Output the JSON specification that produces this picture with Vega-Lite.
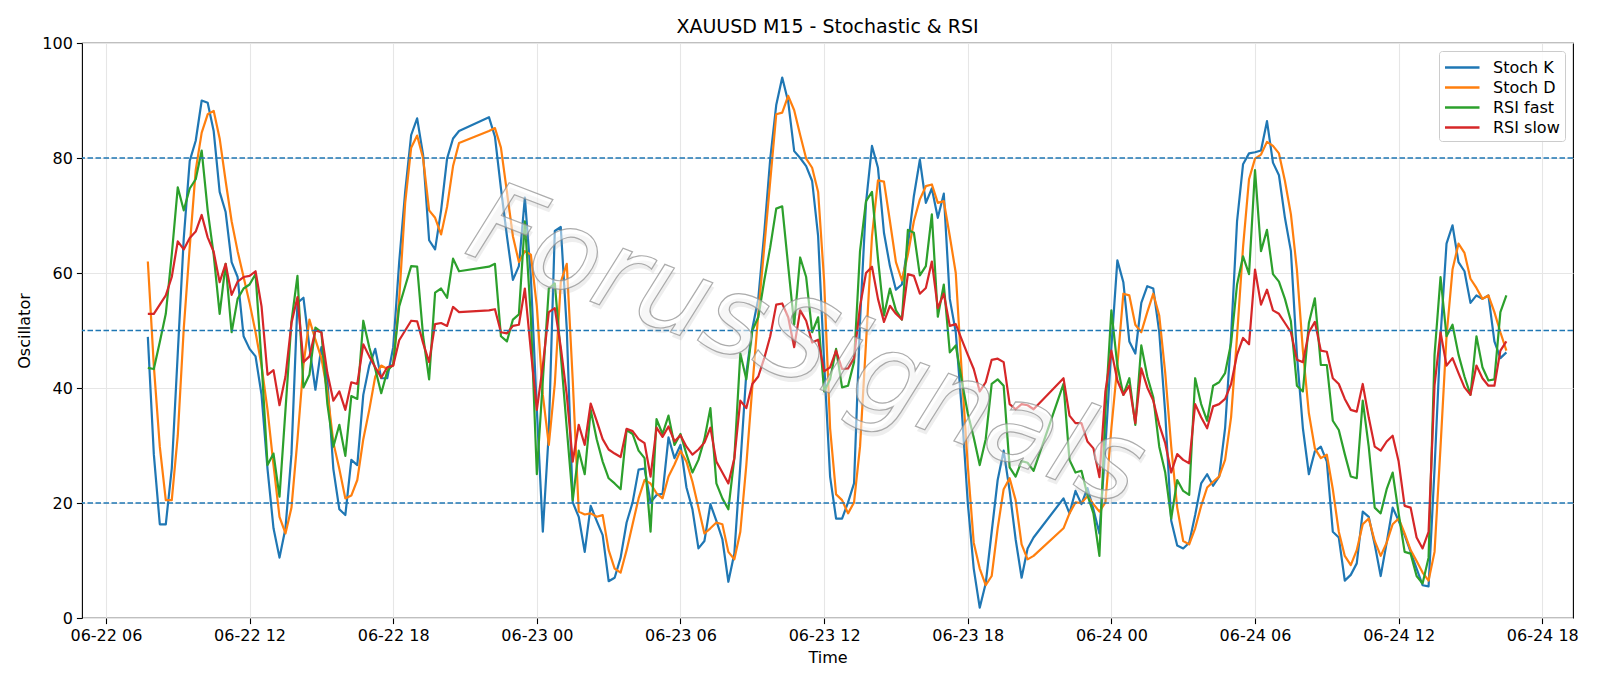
{
"$schema": "https://vega.github.io/schema/vega-lite/v6.json",
"width": 1491, "height": 575,
"autosize": {"type": "none"},
"padding": {"left": 82, "top": 43, "right": 27, "bottom": 68},
"background": "white",
"title": {"text": "XAUUSD M15 - Stochastic & RSI", "fontSize": 19, "font": "DejaVu Sans", "fontWeight": "normal", "color": "black", "anchor": "middle", "offset": 10, "baseline": "alphabetic", "dy": 27},
"config": {
  "font": "DejaVu Sans",
  "view": {"stroke": "black", "strokeWidth": 1.1},
  "axis": {"labelFont": "DejaVu Sans", "labelFontSize": 16, "labelColor": "black", "titleFont": "DejaVu Sans", "titleFontSize": 16, "titleFontWeight": "normal", "titleColor": "black", "tickSize": 5.6, "tickColor": "black", "tickWidth": 1.1, "domain": false, "grid": true, "gridColor": "#e6e6e6", "gridWidth": 1.1, "labelPadding": 4, "titlePadding": 4, "labelFlush": false, "labelOverlap": false}
},
"layer": [
 {
  "data": {"values": [
{"t":"2025-06-22T07:45","Stoch K":48.9,"Stoch D":62.0,"RSI fast":43.5,"RSI slow":52.9},
{"t":"2025-06-22T08:00","Stoch K":28.5,"Stoch D":43.9,"RSI fast":43.3,"RSI slow":52.9},
{"t":"2025-06-22T08:15","Stoch K":16.3,"Stoch D":29.8,"RSI fast":48.0,"RSI slow":54.5},
{"t":"2025-06-22T08:30","Stoch K":16.3,"Stoch D":20.5,"RSI fast":52.9,"RSI slow":56.1},
{"t":"2025-06-22T08:45","Stoch K":26.0,"Stoch D":20.5,"RSI fast":63.2,"RSI slow":59.3},
{"t":"2025-06-22T09:00","Stoch K":46.0,"Stoch D":31.7,"RSI fast":74.9,"RSI slow":65.5},
{"t":"2025-06-22T09:15","Stoch K":66.0,"Stoch D":50.3,"RSI fast":70.9,"RSI slow":64.1},
{"t":"2025-06-22T09:30","Stoch K":79.5,"Stoch D":64.5,"RSI fast":74.7,"RSI slow":66.1},
{"t":"2025-06-22T09:45","Stoch K":83.0,"Stoch D":77.9,"RSI fast":76.3,"RSI slow":67.2},
{"t":"2025-06-22T10:00","Stoch K":90.0,"Stoch D":84.4,"RSI fast":81.3,"RSI slow":70.1},
{"t":"2025-06-22T10:15","Stoch K":89.6,"Stoch D":87.6,"RSI fast":70.9,"RSI slow":66.2},
{"t":"2025-06-22T10:30","Stoch K":84.7,"Stoch D":88.2,"RSI fast":63.2,"RSI slow":63.7},
{"t":"2025-06-22T10:45","Stoch K":74.1,"Stoch D":83.4,"RSI fast":52.9,"RSI slow":58.4},
{"t":"2025-06-22T11:00","Stoch K":70.6,"Stoch D":76.0,"RSI fast":61.6,"RSI slow":61.6},
{"t":"2025-06-22T11:15","Stoch K":61.9,"Stoch D":69.0,"RSI fast":49.7,"RSI slow":56.2},
{"t":"2025-06-22T11:30","Stoch K":59.3,"Stoch D":63.8,"RSI fast":55.5,"RSI slow":58.5},
{"t":"2025-06-22T11:45","Stoch K":49.0,"Stoch D":59.3,"RSI fast":57.3,"RSI slow":59.3},
{"t":"2025-06-22T12:00","Stoch K":46.8,"Stoch D":54.8,"RSI fast":58.0,"RSI slow":59.5},
{"t":"2025-06-22T12:15","Stoch K":45.5,"Stoch D":49.7,"RSI fast":59.8,"RSI slow":60.3},
{"t":"2025-06-22T12:30","Stoch K":38.8,"Stoch D":43.9,"RSI fast":44.5,"RSI slow":54.2},
{"t":"2025-06-22T12:45","Stoch K":25.9,"Stoch D":36.2,"RSI fast":26.6,"RSI slow":42.3},
{"t":"2025-06-22T13:00","Stoch K":15.6,"Stoch D":26.6,"RSI fast":28.6,"RSI slow":43.1},
{"t":"2025-06-22T13:15","Stoch K":10.5,"Stoch D":17.6,"RSI fast":21.1,"RSI slow":37.0},
{"t":"2025-06-22T13:30","Stoch K":15.6,"Stoch D":14.7,"RSI fast":36.2,"RSI slow":42.0},
{"t":"2025-06-22T13:45","Stoch K":28.5,"Stoch D":19.2,"RSI fast":51.6,"RSI slow":51.3},
{"t":"2025-06-22T14:00","Stoch K":54.8,"Stoch D":31.0,"RSI fast":59.5,"RSI slow":55.8},
{"t":"2025-06-22T14:15","Stoch K":55.7,"Stoch D":44.0,"RSI fast":40.1,"RSI slow":44.5},
{"t":"2025-06-22T14:30","Stoch K":47.1,"Stoch D":51.9,"RSI fast":42.3,"RSI slow":45.5},
{"t":"2025-06-22T14:45","Stoch K":39.7,"Stoch D":48.4,"RSI fast":50.5,"RSI slow":50.0},
{"t":"2025-06-22T15:00","Stoch K":47.1,"Stoch D":45.2,"RSI fast":49.7,"RSI slow":49.7},
{"t":"2025-06-22T15:15","Stoch K":41.3,"Stoch D":39.4,"RSI fast":37.2,"RSI slow":42.6},
{"t":"2025-06-22T15:30","Stoch K":25.9,"Stoch D":30.5,"RSI fast":29.8,"RSI slow":37.8},
{"t":"2025-06-22T15:45","Stoch K":18.9,"Stoch D":25.9,"RSI fast":33.6,"RSI slow":39.4},
{"t":"2025-06-22T16:00","Stoch K":17.9,"Stoch D":20.8,"RSI fast":28.2,"RSI slow":36.2},
{"t":"2025-06-22T16:15","Stoch K":27.5,"Stoch D":21.3,"RSI fast":38.6,"RSI slow":41.0},
{"t":"2025-06-22T16:30","Stoch K":26.6,"Stoch D":24.0,"RSI fast":38.1,"RSI slow":40.7},
{"t":"2025-06-22T16:45","Stoch K":38.8,"Stoch D":31.1,"RSI fast":51.7,"RSI slow":47.6},
{"t":"2025-06-22T17:00","Stoch K":43.9,"Stoch D":36.2,"RSI fast":47.1,"RSI slow":45.5},
{"t":"2025-06-22T17:15","Stoch K":46.8,"Stoch D":42.0,"RSI fast":43.3,"RSI slow":43.6},
{"t":"2025-06-22T17:30","Stoch K":41.7,"Stoch D":43.9,"RSI fast":39.1,"RSI slow":41.8},
{"t":"2025-06-22T17:45","Stoch K":41.7,"Stoch D":43.3,"RSI fast":42.9,"RSI slow":43.6},
{"t":"2025-06-22T18:00","Stoch K":47.1,"Stoch D":43.9,"RSI fast":44.2,"RSI slow":43.9},
{"t":"2025-06-22T18:15","Stoch K":61.9,"Stoch D":55.5,"RSI fast":54.2,"RSI slow":48.3},
{"t":"2025-06-22T18:30","Stoch K":74.1,"Stoch D":72.2,"RSI fast":57.7,"RSI slow":50.0},
{"t":"2025-06-22T18:45","Stoch K":84.0,"Stoch D":81.8,"RSI fast":61.2,"RSI slow":51.7},
{"t":"2025-06-22T19:00","Stoch K":86.9,"Stoch D":83.9,"RSI fast":61.1,"RSI slow":51.6},
{"t":"2025-06-22T19:15","Stoch K":80.5,"Stoch D":79.9,"RSI fast":49.0,"RSI slow":47.8},
{"t":"2025-06-22T19:30","Stoch K":65.7,"Stoch D":70.9,"RSI fast":41.5,"RSI slow":44.5},
{"t":"2025-06-22T19:45","Stoch K":64.1,"Stoch D":69.6,"RSI fast":56.6,"RSI slow":51.1},
{"t":"2025-06-22T20:00","Stoch K":70.9,"Stoch D":66.7,"RSI fast":57.3,"RSI slow":51.3},
{"t":"2025-06-22T20:15","Stoch K":79.9,"Stoch D":71.5,"RSI fast":55.7,"RSI slow":50.8},
{"t":"2025-06-22T20:30","Stoch K":83.4,"Stoch D":78.6,"RSI fast":62.5,"RSI slow":54.1},
{"t":"2025-06-22T20:45","Stoch K":84.7,"Stoch D":82.6,"RSI fast":60.3,"RSI slow":53.2},
{"t":"2025-06-22T22:00","Stoch K":87.1,"Stoch D":84.7,"RSI fast":61.1,"RSI slow":53.5},
{"t":"2025-06-22T22:15","Stoch K":83.7,"Stoch D":85.2,"RSI fast":61.6,"RSI slow":53.7},
{"t":"2025-06-22T22:30","Stoch K":74.7,"Stoch D":81.8,"RSI fast":49.0,"RSI slow":49.7},
{"t":"2025-06-22T22:45","Stoch K":66.4,"Stoch D":74.1,"RSI fast":48.1,"RSI slow":49.5},
{"t":"2025-06-22T23:00","Stoch K":58.8,"Stoch D":66.4,"RSI fast":51.9,"RSI slow":50.8},
{"t":"2025-06-22T23:15","Stoch K":61.2,"Stoch D":61.9,"RSI fast":52.8,"RSI slow":51.0},
{"t":"2025-06-22T23:30","Stoch K":73.1,"Stoch D":63.8,"RSI fast":69.0,"RSI slow":57.3},
{"t":"2025-06-22T23:45","Stoch K":59.3,"Stoch D":63.2,"RSI fast":52.3,"RSI slow":46.5},
{"t":"2025-06-23T00:00","Stoch K":36.2,"Stoch D":54.2,"RSI fast":25.0,"RSI slow":36.2},
{"t":"2025-06-23T00:15","Stoch K":15.0,"Stoch D":38.8,"RSI fast":41.3,"RSI slow":43.9},
{"t":"2025-06-23T00:30","Stoch K":32.3,"Stoch D":30.1,"RSI fast":57.3,"RSI slow":53.2},
{"t":"2025-06-23T00:45","Stoch K":67.3,"Stoch D":40.7,"RSI fast":58.2,"RSI slow":53.9},
{"t":"2025-06-23T01:00","Stoch K":68.0,"Stoch D":58.4,"RSI fast":45.8,"RSI slow":47.1},
{"t":"2025-06-23T01:15","Stoch K":50.3,"Stoch D":61.6,"RSI fast":33.0,"RSI slow":38.8},
{"t":"2025-06-23T01:30","Stoch K":20.1,"Stoch D":41.3,"RSI fast":20.5,"RSI slow":27.2},
{"t":"2025-06-23T01:45","Stoch K":17.6,"Stoch D":18.5,"RSI fast":29.1,"RSI slow":33.6},
{"t":"2025-06-23T02:00","Stoch K":11.5,"Stoch D":18.0,"RSI fast":25.0,"RSI slow":30.1},
{"t":"2025-06-23T02:15","Stoch K":19.5,"Stoch D":18.2,"RSI fast":36.2,"RSI slow":37.3},
{"t":"2025-06-23T02:30","Stoch K":16.9,"Stoch D":17.6,"RSI fast":31.1,"RSI slow":34.3},
{"t":"2025-06-23T02:45","Stoch K":14.4,"Stoch D":17.9,"RSI fast":27.2,"RSI slow":31.1},
{"t":"2025-06-23T03:00","Stoch K":6.4,"Stoch D":11.8,"RSI fast":24.3,"RSI slow":29.3},
{"t":"2025-06-23T03:15","Stoch K":7.0,"Stoch D":8.6,"RSI fast":23.4,"RSI slow":28.6},
{"t":"2025-06-23T03:30","Stoch K":10.5,"Stoch D":7.9,"RSI fast":22.4,"RSI slow":28.0},
{"t":"2025-06-23T03:45","Stoch K":16.6,"Stoch D":11.8,"RSI fast":32.7,"RSI slow":32.9},
{"t":"2025-06-23T04:00","Stoch K":20.1,"Stoch D":16.3,"RSI fast":32.0,"RSI slow":32.5},
{"t":"2025-06-23T04:15","Stoch K":25.8,"Stoch D":20.8,"RSI fast":29.1,"RSI slow":31.1},
{"t":"2025-06-23T04:30","Stoch K":26.0,"Stoch D":24.0,"RSI fast":27.8,"RSI slow":30.4},
{"t":"2025-06-23T04:45","Stoch K":20.1,"Stoch D":23.4,"RSI fast":15.0,"RSI slow":24.6},
{"t":"2025-06-23T05:00","Stoch K":21.4,"Stoch D":21.7,"RSI fast":34.6,"RSI slow":33.1},
{"t":"2025-06-23T05:15","Stoch K":21.6,"Stoch D":20.8,"RSI fast":32.0,"RSI slow":31.5},
{"t":"2025-06-23T05:30","Stoch K":31.4,"Stoch D":24.6,"RSI fast":35.2,"RSI slow":33.3},
{"t":"2025-06-23T05:45","Stoch K":27.8,"Stoch D":26.7,"RSI fast":30.1,"RSI slow":30.7},
{"t":"2025-06-23T06:00","Stoch K":30.1,"Stoch D":29.1,"RSI fast":32.0,"RSI slow":31.8},
{"t":"2025-06-23T06:15","Stoch K":22.7,"Stoch D":27.2,"RSI fast":28.5,"RSI slow":29.8},
{"t":"2025-06-23T06:30","Stoch K":18.9,"Stoch D":23.7,"RSI fast":25.3,"RSI slow":28.4},
{"t":"2025-06-23T06:45","Stoch K":12.1,"Stoch D":19.2,"RSI fast":27.5,"RSI slow":29.3},
{"t":"2025-06-23T07:00","Stoch K":13.4,"Stoch D":14.7,"RSI fast":31.1,"RSI slow":30.5},
{"t":"2025-06-23T07:15","Stoch K":19.8,"Stoch D":15.6,"RSI fast":36.5,"RSI slow":33.1},
{"t":"2025-06-23T07:30","Stoch K":16.9,"Stoch D":16.6,"RSI fast":23.4,"RSI slow":27.2},
{"t":"2025-06-23T07:45","Stoch K":13.7,"Stoch D":16.3,"RSI fast":20.8,"RSI slow":25.3},
{"t":"2025-06-23T08:00","Stoch K":6.3,"Stoch D":11.5,"RSI fast":18.9,"RSI slow":23.4},
{"t":"2025-06-23T08:15","Stoch K":11.2,"Stoch D":10.2,"RSI fast":27.8,"RSI slow":27.8},
{"t":"2025-06-23T08:30","Stoch K":26.6,"Stoch D":15.0,"RSI fast":46.0,"RSI slow":37.8},
{"t":"2025-06-23T08:45","Stoch K":42.6,"Stoch D":26.6,"RSI fast":41.5,"RSI slow":36.5},
{"t":"2025-06-23T09:00","Stoch K":50.3,"Stoch D":40.1,"RSI fast":50.0,"RSI slow":40.7},
{"t":"2025-06-23T09:15","Stoch K":55.5,"Stoch D":52.9,"RSI fast":52.3,"RSI slow":42.0},
{"t":"2025-06-23T09:30","Stoch K":67.0,"Stoch D":64.5,"RSI fast":58.7,"RSI slow":45.2},
{"t":"2025-06-23T09:45","Stoch K":79.9,"Stoch D":76.0,"RSI fast":64.5,"RSI slow":49.0},
{"t":"2025-06-23T10:00","Stoch K":89.2,"Stoch D":87.6,"RSI fast":71.2,"RSI slow":54.5},
{"t":"2025-06-23T10:15","Stoch K":94.0,"Stoch D":87.9,"RSI fast":71.6,"RSI slow":54.7},
{"t":"2025-06-23T10:30","Stoch K":89.8,"Stoch D":90.8,"RSI fast":61.2,"RSI slow":52.3},
{"t":"2025-06-23T10:45","Stoch K":81.2,"Stoch D":88.3,"RSI fast":51.0,"RSI slow":47.1},
{"t":"2025-06-23T11:00","Stoch K":80.0,"Stoch D":84.0,"RSI fast":62.7,"RSI slow":53.5},
{"t":"2025-06-23T11:15","Stoch K":78.6,"Stoch D":79.9,"RSI fast":59.3,"RSI slow":51.7},
{"t":"2025-06-23T11:30","Stoch K":76.0,"Stoch D":78.3,"RSI fast":49.7,"RSI slow":47.9},
{"t":"2025-06-23T11:45","Stoch K":66.4,"Stoch D":74.1,"RSI fast":52.3,"RSI slow":48.4},
{"t":"2025-06-23T12:00","Stoch K":44.5,"Stoch D":58.7,"RSI fast":39.4,"RSI slow":42.9},
{"t":"2025-06-23T12:15","Stoch K":24.6,"Stoch D":33.0,"RSI fast":41.5,"RSI slow":43.6},
{"t":"2025-06-23T12:30","Stoch K":17.3,"Stoch D":21.5,"RSI fast":46.8,"RSI slow":46.5},
{"t":"2025-06-23T12:45","Stoch K":17.3,"Stoch D":20.5,"RSI fast":40.1,"RSI slow":43.3},
{"t":"2025-06-23T13:00","Stoch K":20.1,"Stoch D":18.2,"RSI fast":40.4,"RSI slow":43.4},
{"t":"2025-06-23T13:15","Stoch K":23.4,"Stoch D":20.1,"RSI fast":44.5,"RSI slow":45.2},
{"t":"2025-06-23T13:30","Stoch K":51.6,"Stoch D":29.8,"RSI fast":63.8,"RSI slow":54.2},
{"t":"2025-06-23T13:45","Stoch K":72.2,"Stoch D":47.8,"RSI fast":72.5,"RSI slow":60.0},
{"t":"2025-06-23T14:00","Stoch K":82.1,"Stoch D":66.4,"RSI fast":74.1,"RSI slow":61.1},
{"t":"2025-06-23T14:15","Stoch K":78.3,"Stoch D":76.1,"RSI fast":62.5,"RSI slow":55.5},
{"t":"2025-06-23T14:30","Stoch K":67.0,"Stoch D":75.9,"RSI fast":52.6,"RSI slow":51.5},
{"t":"2025-06-23T14:45","Stoch K":61.2,"Stoch D":69.0,"RSI fast":57.3,"RSI slow":54.3},
{"t":"2025-06-23T15:00","Stoch K":57.1,"Stoch D":61.9,"RSI fast":53.5,"RSI slow":52.9},
{"t":"2025-06-23T15:15","Stoch K":58.0,"Stoch D":58.7,"RSI fast":51.9,"RSI slow":51.9},
{"t":"2025-06-23T15:30","Stoch K":64.8,"Stoch D":63.2,"RSI fast":67.5,"RSI slow":59.8},
{"t":"2025-06-23T15:45","Stoch K":73.4,"Stoch D":69.0,"RSI fast":67.0,"RSI slow":59.5},
{"t":"2025-06-23T16:00","Stoch K":79.7,"Stoch D":72.8,"RSI fast":59.6,"RSI slow":56.4},
{"t":"2025-06-23T16:15","Stoch K":72.2,"Stoch D":75.1,"RSI fast":61.2,"RSI slow":57.4},
{"t":"2025-06-23T16:30","Stoch K":74.7,"Stoch D":75.4,"RSI fast":70.2,"RSI slow":62.0},
{"t":"2025-06-23T16:45","Stoch K":69.6,"Stoch D":72.2,"RSI fast":52.4,"RSI slow":53.9},
{"t":"2025-06-23T17:00","Stoch K":73.8,"Stoch D":72.5,"RSI fast":58.0,"RSI slow":56.4},
{"t":"2025-06-23T17:15","Stoch K":55.5,"Stoch D":66.4,"RSI fast":46.2,"RSI slow":50.8},
{"t":"2025-06-23T17:30","Stoch K":49.7,"Stoch D":60.0,"RSI fast":47.4,"RSI slow":51.1},
{"t":"2025-06-23T17:45","Stoch K":36.2,"Stoch D":42.6,"RSI fast":41.3,"RSI slow":48.4},
{"t":"2025-06-23T18:00","Stoch K":20.1,"Stoch D":26.6,"RSI fast":35.6,"RSI slow":45.8},
{"t":"2025-06-23T18:15","Stoch K":8.6,"Stoch D":13.1,"RSI fast":31.4,"RSI slow":43.3},
{"t":"2025-06-23T18:30","Stoch K":1.8,"Stoch D":8.6,"RSI fast":26.6,"RSI slow":39.4},
{"t":"2025-06-23T18:45","Stoch K":6.0,"Stoch D":5.7,"RSI fast":31.1,"RSI slow":41.0},
{"t":"2025-06-23T19:00","Stoch K":15.0,"Stoch D":7.3,"RSI fast":40.7,"RSI slow":44.9},
{"t":"2025-06-23T19:15","Stoch K":24.0,"Stoch D":15.6,"RSI fast":41.5,"RSI slow":45.1},
{"t":"2025-06-23T19:30","Stoch K":29.1,"Stoch D":22.4,"RSI fast":40.4,"RSI slow":44.5},
{"t":"2025-06-23T19:45","Stoch K":22.1,"Stoch D":24.3,"RSI fast":26.2,"RSI slow":37.2},
{"t":"2025-06-23T20:00","Stoch K":13.7,"Stoch D":20.5,"RSI fast":24.6,"RSI slow":36.3},
{"t":"2025-06-23T20:15","Stoch K":7.0,"Stoch D":12.8,"RSI fast":27.3,"RSI slow":37.2},
{"t":"2025-06-23T20:30","Stoch K":12.1,"Stoch D":10.2,"RSI fast":27.0,"RSI slow":37.0},
{"t":"2025-06-23T20:45","Stoch K":14.0,"Stoch D":10.8,"RSI fast":25.6,"RSI slow":36.3},
{"t":"2025-06-23T22:00","Stoch K":20.8,"Stoch D":15.6,"RSI fast":40.7,"RSI slow":41.7},
{"t":"2025-06-23T22:15","Stoch K":18.2,"Stoch D":18.2,"RSI fast":27.5,"RSI slow":35.2},
{"t":"2025-06-23T22:30","Stoch K":22.1,"Stoch D":20.1,"RSI fast":25.3,"RSI slow":33.9},
{"t":"2025-06-23T22:45","Stoch K":19.8,"Stoch D":20.0,"RSI fast":25.6,"RSI slow":33.9},
{"t":"2025-06-23T23:00","Stoch K":22.6,"Stoch D":21.2,"RSI fast":21.4,"RSI slow":30.7},
{"t":"2025-06-23T23:15","Stoch K":18.9,"Stoch D":19.8,"RSI fast":18.2,"RSI slow":29.5},
{"t":"2025-06-23T23:30","Stoch K":14.7,"Stoch D":18.5,"RSI fast":10.8,"RSI slow":24.5},
{"t":"2025-06-23T23:45","Stoch K":29.8,"Stoch D":20.1,"RSI fast":36.0,"RSI slow":39.4},
{"t":"2025-06-24T00:00","Stoch K":47.1,"Stoch D":33.0,"RSI fast":53.5,"RSI slow":46.5},
{"t":"2025-06-24T00:15","Stoch K":62.2,"Stoch D":43.9,"RSI fast":43.9,"RSI slow":41.3},
{"t":"2025-06-24T00:30","Stoch K":58.4,"Stoch D":56.4,"RSI fast":38.8,"RSI slow":38.8},
{"t":"2025-06-24T00:45","Stoch K":48.1,"Stoch D":56.1,"RSI fast":41.7,"RSI slow":40.4},
{"t":"2025-06-24T01:00","Stoch K":46.0,"Stoch D":51.0,"RSI fast":33.6,"RSI slow":33.9},
{"t":"2025-06-24T01:15","Stoch K":54.8,"Stoch D":49.7,"RSI fast":47.4,"RSI slow":43.4},
{"t":"2025-06-24T01:30","Stoch K":57.7,"Stoch D":53.2,"RSI fast":42.0,"RSI slow":40.1},
{"t":"2025-06-24T01:45","Stoch K":57.3,"Stoch D":56.4,"RSI fast":38.4,"RSI slow":37.8},
{"t":"2025-06-24T02:00","Stoch K":49.7,"Stoch D":52.6,"RSI fast":29.8,"RSI slow":33.6},
{"t":"2025-06-24T02:15","Stoch K":35.6,"Stoch D":42.6,"RSI fast":25.3,"RSI slow":30.4},
{"t":"2025-06-24T02:30","Stoch K":16.9,"Stoch D":29.8,"RSI fast":17.3,"RSI slow":25.3},
{"t":"2025-06-24T02:45","Stoch K":12.6,"Stoch D":19.2,"RSI fast":24.0,"RSI slow":28.5},
{"t":"2025-06-24T03:00","Stoch K":12.1,"Stoch D":13.4,"RSI fast":22.1,"RSI slow":27.5},
{"t":"2025-06-24T03:15","Stoch K":13.1,"Stoch D":12.8,"RSI fast":21.4,"RSI slow":26.9},
{"t":"2025-06-24T03:30","Stoch K":17.9,"Stoch D":15.6,"RSI fast":41.7,"RSI slow":37.2},
{"t":"2025-06-24T03:45","Stoch K":23.4,"Stoch D":19.5,"RSI fast":37.2,"RSI slow":34.9},
{"t":"2025-06-24T04:00","Stoch K":25.0,"Stoch D":22.7,"RSI fast":34.3,"RSI slow":33.0},
{"t":"2025-06-24T04:15","Stoch K":23.0,"Stoch D":23.7,"RSI fast":40.4,"RSI slow":36.8},
{"t":"2025-06-24T04:30","Stoch K":24.6,"Stoch D":24.6,"RSI fast":41.0,"RSI slow":37.2},
{"t":"2025-06-24T04:45","Stoch K":33.0,"Stoch D":27.5,"RSI fast":42.6,"RSI slow":38.1},
{"t":"2025-06-24T05:00","Stoch K":49.0,"Stoch D":34.9,"RSI fast":47.8,"RSI slow":40.7},
{"t":"2025-06-24T05:15","Stoch K":69.0,"Stoch D":49.0,"RSI fast":58.0,"RSI slow":45.8},
{"t":"2025-06-24T05:30","Stoch K":78.9,"Stoch D":64.5,"RSI fast":62.9,"RSI slow":48.7},
{"t":"2025-06-24T05:45","Stoch K":80.8,"Stoch D":76.3,"RSI fast":59.8,"RSI slow":47.6},
{"t":"2025-06-24T06:00","Stoch K":81.0,"Stoch D":79.9,"RSI fast":77.9,"RSI slow":60.6},
{"t":"2025-06-24T06:15","Stoch K":81.3,"Stoch D":80.6,"RSI fast":63.8,"RSI slow":54.5},
{"t":"2025-06-24T06:30","Stoch K":86.4,"Stoch D":82.8,"RSI fast":67.5,"RSI slow":57.1},
{"t":"2025-06-24T06:45","Stoch K":79.2,"Stoch D":82.1,"RSI fast":59.8,"RSI slow":53.5},
{"t":"2025-06-24T07:00","Stoch K":77.0,"Stoch D":80.8,"RSI fast":58.5,"RSI slow":52.9},
{"t":"2025-06-24T07:15","Stoch K":69.6,"Stoch D":76.0,"RSI fast":55.5,"RSI slow":51.3},
{"t":"2025-06-24T07:30","Stoch K":63.8,"Stoch D":70.2,"RSI fast":51.6,"RSI slow":49.7},
{"t":"2025-06-24T07:45","Stoch K":45.8,"Stoch D":60.6,"RSI fast":40.4,"RSI slow":44.9},
{"t":"2025-06-24T08:00","Stoch K":33.0,"Stoch D":46.5,"RSI fast":39.4,"RSI slow":44.5},
{"t":"2025-06-24T08:15","Stoch K":25.0,"Stoch D":35.6,"RSI fast":51.3,"RSI slow":49.7},
{"t":"2025-06-24T08:30","Stoch K":29.0,"Stoch D":29.5,"RSI fast":55.6,"RSI slow":51.5},
{"t":"2025-06-24T08:45","Stoch K":29.8,"Stoch D":27.8,"RSI fast":44.0,"RSI slow":46.5},
{"t":"2025-06-24T09:00","Stoch K":27.2,"Stoch D":28.4,"RSI fast":44.0,"RSI slow":46.3},
{"t":"2025-06-24T09:15","Stoch K":15.0,"Stoch D":22.4,"RSI fast":34.3,"RSI slow":41.7},
{"t":"2025-06-24T09:30","Stoch K":14.0,"Stoch D":15.0,"RSI fast":32.7,"RSI slow":40.7},
{"t":"2025-06-24T09:45","Stoch K":6.5,"Stoch D":10.8,"RSI fast":28.5,"RSI slow":38.1},
{"t":"2025-06-24T10:00","Stoch K":7.5,"Stoch D":9.2,"RSI fast":24.6,"RSI slow":36.2},
{"t":"2025-06-24T10:15","Stoch K":9.5,"Stoch D":11.8,"RSI fast":24.3,"RSI slow":35.9},
{"t":"2025-06-24T10:30","Stoch K":18.5,"Stoch D":16.3,"RSI fast":37.8,"RSI slow":40.7},
{"t":"2025-06-24T10:45","Stoch K":17.6,"Stoch D":17.3,"RSI fast":29.8,"RSI slow":34.9},
{"t":"2025-06-24T11:00","Stoch K":12.8,"Stoch D":13.4,"RSI fast":19.2,"RSI slow":29.8},
{"t":"2025-06-24T11:15","Stoch K":7.3,"Stoch D":10.8,"RSI fast":18.2,"RSI slow":29.1},
{"t":"2025-06-24T11:30","Stoch K":13.1,"Stoch D":13.1,"RSI fast":22.4,"RSI slow":30.7},
{"t":"2025-06-24T11:45","Stoch K":19.2,"Stoch D":16.3,"RSI fast":25.3,"RSI slow":31.7},
{"t":"2025-06-24T12:00","Stoch K":16.9,"Stoch D":17.3,"RSI fast":18.2,"RSI slow":27.2},
{"t":"2025-06-24T12:15","Stoch K":14.4,"Stoch D":14.7,"RSI fast":11.5,"RSI slow":19.5},
{"t":"2025-06-24T12:30","Stoch K":11.5,"Stoch D":11.8,"RSI fast":11.2,"RSI slow":19.2},
{"t":"2025-06-24T12:45","Stoch K":8.6,"Stoch D":9.9,"RSI fast":7.3,"RSI slow":14.0},
{"t":"2025-06-24T13:00","Stoch K":5.7,"Stoch D":7.9,"RSI fast":6.0,"RSI slow":12.1},
{"t":"2025-06-24T13:15","Stoch K":5.5,"Stoch D":6.5,"RSI fast":10.5,"RSI slow":15.0},
{"t":"2025-06-24T13:30","Stoch K":26.0,"Stoch D":11.5,"RSI fast":45.8,"RSI slow":40.5},
{"t":"2025-06-24T13:45","Stoch K":49.0,"Stoch D":29.8,"RSI fast":59.3,"RSI slow":49.7},
{"t":"2025-06-24T14:00","Stoch K":65.1,"Stoch D":49.0,"RSI fast":49.0,"RSI slow":43.9},
{"t":"2025-06-24T14:15","Stoch K":68.3,"Stoch D":60.6,"RSI fast":51.0,"RSI slow":45.2},
{"t":"2025-06-24T14:30","Stoch K":61.9,"Stoch D":65.1,"RSI fast":45.8,"RSI slow":42.6},
{"t":"2025-06-24T14:45","Stoch K":60.3,"Stoch D":63.5,"RSI fast":42.0,"RSI slow":40.1},
{"t":"2025-06-24T15:00","Stoch K":54.8,"Stoch D":59.0,"RSI fast":38.8,"RSI slow":38.8},
{"t":"2025-06-24T15:15","Stoch K":56.1,"Stoch D":57.4,"RSI fast":49.0,"RSI slow":43.9},
{"t":"2025-06-24T15:30","Stoch K":55.5,"Stoch D":55.5,"RSI fast":43.6,"RSI slow":41.7},
{"t":"2025-06-24T15:45","Stoch K":56.1,"Stoch D":56.1,"RSI fast":41.3,"RSI slow":40.4},
{"t":"2025-06-24T16:00","Stoch K":48.1,"Stoch D":53.2,"RSI fast":41.5,"RSI slow":40.4},
{"t":"2025-06-24T16:15","Stoch K":45.2,"Stoch D":49.7,"RSI fast":53.2,"RSI slow":46.5},
{"t":"2025-06-24T16:30","Stoch K":46.2,"Stoch D":46.5,"RSI fast":56.1,"RSI slow":48.1}
  ]},
  "transform": [{"fold": ["Stoch K", "Stoch D", "RSI fast", "RSI slow"], "as": ["series", "value"]}],
  "mark": {"type": "line", "strokeWidth": 2.2, "strokeJoin": "round", "strokeCap": "butt"},
  "encoding": {
    "x": {"field": "t", "type": "temporal", "title": "Time",
          "scale": {"domain": [{"year": 2025, "month": 6, "date": 22, "hours": 5, "minutes": 0}, {"year": 2025, "month": 6, "date": 24, "hours": 19, "minutes": 17}]},
          "axis": {"format": "%m-%d %H", "titlePadding": 6, "values": [
            {"year": 2025, "month": 6, "date": 22, "hours": 6}, {"year": 2025, "month": 6, "date": 22, "hours": 12}, {"year": 2025, "month": 6, "date": 22, "hours": 18},
            {"year": 2025, "month": 6, "date": 23, "hours": 0}, {"year": 2025, "month": 6, "date": 23, "hours": 6}, {"year": 2025, "month": 6, "date": 23, "hours": 12}, {"year": 2025, "month": 6, "date": 23, "hours": 18},
            {"year": 2025, "month": 6, "date": 24, "hours": 0}, {"year": 2025, "month": 6, "date": 24, "hours": 6}, {"year": 2025, "month": 6, "date": 24, "hours": 12}, {"year": 2025, "month": 6, "date": 24, "hours": 18}]}},
    "y": {"field": "value", "type": "quantitative", "title": "Oscillator", "scale": {"domain": [0, 100], "nice": false},
          "axis": {"values": [0, 20, 40, 60, 80, 100], "titlePadding": 9}},
    "color": {"field": "series", "type": "nominal",
              "scale": {"domain": ["Stoch K", "Stoch D", "RSI fast", "RSI slow"], "range": ["#1f77b4", "#ff7f0e", "#2ca02c", "#d62728"]},
              "legend": {"title": null, "orient": "top-right", "offset": 8, "symbolType": "M-1.05,0H2.4", "symbolSize": 400, "symbolStrokeWidth": 2.3, "labelFontSize": 16, "labelFont": "DejaVu Sans", "labelColor": "black", "labelOffset": 26, "padding": 5, "rowPadding": 0, "fillColor": "rgba(255,255,255,0.85)", "strokeColor": "#cccccc", "cornerRadius": 3}}
  }
 },
 {
  "data": {"values": [{"value": 20}, {"value": 50}, {"value": 80}]},
  "mark": {"type": "rule", "color": "#1f77b4", "strokeWidth": 1.3, "strokeDash": [5.5, 2.5]},
  "encoding": {"y": {"field": "value", "type": "quantitative", "title": "Oscillator"}}
 },
 {
  "data": {"values": [{"label": "ForusSignals", "t": "2025-06-23T11:15", "value": 47}]},
  "mark": {"type": "text", "angle": 21, "fontSize": 112, "fontStyle": "italic", "font": "DejaVu Sans", "align": "center", "baseline": "middle", "dx": 3, "dy": 4, "fill": "#a0a0a0", "fillOpacity": 0.18},
  "encoding": {"x": {"field": "t", "type": "temporal", "title": "Time"}, "y": {"field": "value", "type": "quantitative", "title": "Oscillator"}, "text": {"field": "label"}}
 },
 {
  "data": {"values": [{"label": "ForusSignals", "t": "2025-06-23T11:15", "value": 47}]},
  "mark": {"type": "text", "angle": 21, "fontSize": 112, "fontStyle": "italic", "font": "DejaVu Sans", "align": "center", "baseline": "middle", "fill": "#ffffff", "fillOpacity": 0.5, "stroke": "#909090", "strokeWidth": 1.2, "strokeOpacity": 0.75},
  "encoding": {"x": {"field": "t", "type": "temporal", "title": "Time"}, "y": {"field": "value", "type": "quantitative", "title": "Oscillator"}, "text": {"field": "label"}}
 }
]
}
